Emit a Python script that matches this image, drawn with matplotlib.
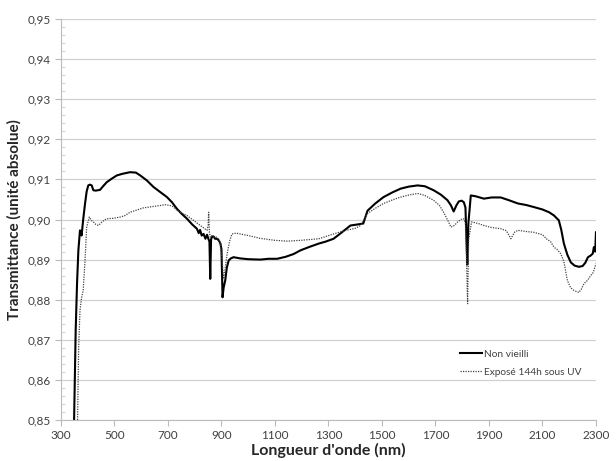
import numpy as np
import matplotlib
matplotlib.use('Agg')
import matplotlib.pyplot as plt
from matplotlib.ticker import MultipleLocator

plt.rcParams['font.family'] = ['Lato', 'DejaVu Sans']

# Non vieilli (solid)
wl_ref = [349, 355, 360, 365, 371, 374, 377, 383, 390, 396, 402, 408, 415, 421, 430, 446, 460,
          471, 490, 509, 530, 558, 580, 596, 620, 646, 670, 696, 715, 733, 750, 771, 790,
          808, 815, 820, 826, 833, 840, 846, 852, 855, 858, 861, 864, 870, 876, 883, 890, 896, 900,
          904, 908, 914, 920, 927, 935, 945, 970, 1000, 1045, 1075, 1108, 1140, 1170, 1195,
          1230, 1264, 1290, 1319, 1350, 1382, 1412, 1430, 1446, 1475, 1506, 1540, 1570,
          1600, 1633, 1660, 1693, 1720, 1745, 1758, 1768, 1778, 1787, 1798, 1806, 1812,
          1816, 1819, 1823, 1832, 1850, 1881, 1910, 1944, 1975, 2008, 2040, 2068, 2100,
          2125, 2143, 2161, 2170, 2180, 2193, 2206, 2220, 2236, 2250, 2260, 2270, 2280,
          2288, 2292, 2297, 2300]
t_ref = [0.850, 0.8725, 0.884, 0.8923, 0.8973, 0.8968, 0.896, 0.900, 0.904, 0.907, 0.9085,
         0.9087, 0.9085, 0.9073, 0.9072, 0.9074, 0.9085, 0.9093, 0.9102, 0.911, 0.9114,
         0.9118, 0.9117, 0.911, 0.9098, 0.9081, 0.9069, 0.9056, 0.9043, 0.9027, 0.9015,
         0.9002, 0.8988, 0.8977, 0.8966, 0.8974, 0.8960, 0.8964, 0.8952, 0.8962, 0.8950,
         0.8945, 0.8852, 0.8950, 0.8956, 0.8958, 0.8952, 0.8952, 0.8948, 0.894, 0.8925,
         0.8806, 0.8830, 0.8848, 0.8880, 0.8898, 0.8903, 0.8906, 0.8903, 0.8901, 0.8900,
         0.8902, 0.8902, 0.8907, 0.8914, 0.8923, 0.8932, 0.894, 0.8945, 0.8952, 0.8968,
         0.8985, 0.8988, 0.8990, 0.9022, 0.9040, 0.9056, 0.9068, 0.9077, 0.9082, 0.9085,
         0.9083, 0.9073, 0.9062, 0.9048, 0.9035, 0.902, 0.9035, 0.9045, 0.9047, 0.9043,
         0.9030, 0.8950, 0.8888, 0.8990, 0.9060, 0.9058, 0.9052, 0.9055, 0.9055, 0.9048,
         0.904, 0.9036, 0.9031, 0.9025, 0.9018, 0.901, 0.8998, 0.8975, 0.894, 0.8912,
         0.8893, 0.8885, 0.8882, 0.8884, 0.8892, 0.8906, 0.8910, 0.8915, 0.8931, 0.8920,
         0.8968]

# Exposé 144h sous UV (dotted)
wl_uv = [362, 366, 371, 377, 383, 390, 396, 406, 413, 421, 430, 440, 455, 471, 495, 521,
         540, 558, 585, 608, 640, 671, 690, 708, 720, 733, 750, 771, 795, 821, 835, 846,
         850, 852, 855, 858, 864, 870, 883, 890, 896, 902, 908, 914, 921, 930, 939, 955,
         970, 1000, 1045, 1100, 1145, 1195, 1264, 1319, 1360, 1400, 1420, 1446, 1475,
         1506, 1540, 1570, 1600, 1633, 1660, 1693, 1715, 1733, 1748, 1758, 1770, 1783,
         1795, 1806, 1812, 1816, 1820, 1824, 1835, 1860, 1881, 1910, 1944, 1965, 1982,
         1995, 2008, 2040, 2068, 2100, 2118, 2130, 2143, 2155, 2168, 2180, 2193, 2205,
         2218, 2236, 2245, 2255, 2268, 2280, 2290, 2300]
t_uv = [0.850, 0.868, 0.8773, 0.8805, 0.8823, 0.890, 0.8981, 0.9006, 0.8998, 0.8994,
        0.8988, 0.8985, 0.8995, 0.9002, 0.9003, 0.9006, 0.9010, 0.9018, 0.9024, 0.9029,
        0.9032, 0.9035, 0.9037, 0.9035, 0.9032, 0.9023, 0.9017, 0.901, 0.8998, 0.8985,
        0.8978, 0.8973, 0.8985, 0.9018, 0.8968, 0.8956, 0.8960, 0.8956, 0.8956, 0.8950,
        0.894, 0.8900, 0.8852, 0.8880, 0.8914, 0.8945, 0.8964, 0.8966, 0.8964, 0.8960,
        0.8953, 0.8948, 0.8946, 0.8948, 0.8952, 0.8964, 0.8972, 0.8978, 0.8985, 0.9015,
        0.9028, 0.904, 0.9049, 0.9056, 0.9061, 0.9065, 0.9060, 0.9048, 0.9035, 0.9015,
        0.8995, 0.8981, 0.8985, 0.8994, 0.9000, 0.9002, 0.8990, 0.8900, 0.879, 0.8950,
        0.8994, 0.8990, 0.8985, 0.8980, 0.8977, 0.8972, 0.8952, 0.8968, 0.8973, 0.8970,
        0.8968, 0.8962, 0.895, 0.8945, 0.8931, 0.8925, 0.8915, 0.8895, 0.8848, 0.8830,
        0.8823, 0.8818, 0.8826, 0.884, 0.8848, 0.886, 0.8868, 0.889]

x_ticks = list(range(300, 2301, 200))

fig = plt.figure(figsize=(6.16, 4.61), dpi=100)
ax = fig.add_axes([0.099, 0.089, 0.8685, 0.8697])

ax.plot(wl_ref, t_ref, color='black', lw=1.5, label='Non vieilli')
ax.plot(wl_uv, t_uv, color='#444444', lw=0.9, ls=(0, (1, 1)), label='Exposé 144h sous UV')

ax.set_xlim(300, 2300)
ax.set_ylim(0.85, 0.95)
ax.set_xticks(x_ticks)
ax.yaxis.set_minor_locator(MultipleLocator(0.002))
yt = np.round(np.arange(0.85, 0.951, 0.01), 2)
ax.set_yticks(yt)
ax.set_yticklabels([('%.2f' % v).replace('.', ',') for v in yt])

ax.grid(axis='y', color='#d0d0d0', lw=0.9)
ax.set_axisbelow(True)
for s in ['top', 'right']:
    ax.spines[s].set_visible(False)
ax.spines['left'].set_color('#bbbbbb')
ax.spines['bottom'].set_color('#bbbbbb')
ax.tick_params(axis='both', which='major', labelsize=8.5, colors='#bbbbbb', labelcolor='#404040', length=4)
ax.tick_params(axis='y', which='minor', direction='in', length=3, colors='#cccccc')

ax.set_xlabel("Longueur d'onde (nm)", fontsize=11.5, fontweight='bold', color='#262626', labelpad=1)
ax.set_ylabel('Transmittance (unité absolue)', fontsize=11, fontweight='bold', color='#262626', labelpad=4)

leg = ax.legend(loc='lower right', bbox_to_anchor=(0.99, 0.085), frameon=False, fontsize=7.3,
                handlelength=2.2, handletextpad=0.2, labelspacing=0.9)
for t in leg.get_texts():
    t.set_color('#404040')

fig.savefig('out.png', dpi=100)
